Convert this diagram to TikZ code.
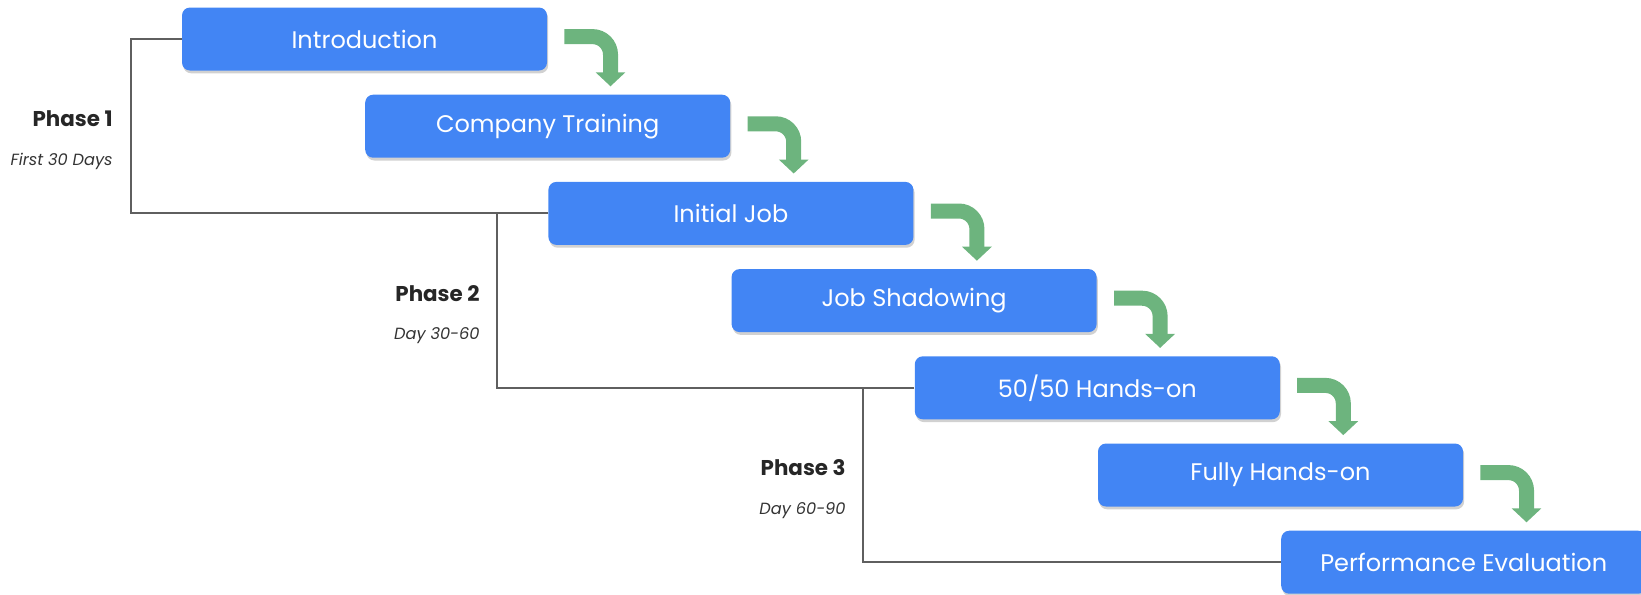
\documentclass[tikz,border=0pt]{standalone}
\usepackage{fontspec}
\setmainfont{Poppins}
\usetikzlibrary{arrows.meta,shadows}
\definecolor{stageblue}{RGB}{66,133,244}
\definecolor{turngreen}{RGB}{109,180,126}
\definecolor{bracketgray}{RGB}{95,95,95}

\begin{document}
\begin{tikzpicture}[x=0.5pt,y=-0.5pt,
  stage/.style={fill=stageblue,text=white,rounded corners=4pt,minimum width=182.5pt,minimum height=31.5pt,
    font=\fontsize{12}{14}\selectfont,drop shadow={fill=black!60,opacity=0.3,shadow xshift=0.6pt,shadow yshift=-1.4pt}},
  turn/.style={draw=turngreen,line width=7.5pt,rounded corners=9pt,-{Triangle[length=7pt,width=14.5pt]}},
  bracket/.style={draw=bracketgray,line width=1pt},
  phase/.style={anchor=east,inner xsep=0pt,font=\bfseries\fontsize{10.7}{12}\selectfont,text=black!85},
  days/.style={anchor=east,inner xsep=0pt,font=\itshape\fontsize{8.1}{10}\selectfont,text=black!80}]
\useasboundingbox (0,0) rectangle (1641,594);
\path (364.5,39) node[stage] (I) {Introduction} +(183.2,87.2) node[stage] (CT) {Company Training} +(366.4,174.4) node[stage] (IJ) {Initial Job} +(549.6,261.6) node[stage] (JS) {Job Shadowing} +(732.8,348.8) node[stage] (HO) {50/50 Hands-on} +(916,436) node[stage] (FH) {Fully Hands-on} +(1099.2,523.2) node[stage] (PE) {Performance Evaluation};

\draw[bracket] (I.west)--+(-51,0) |- (IJ.west);
\draw[bracket] (IJ.west)--+(-51,0) |- (HO.west);
\draw[bracket] (HO.west)--+(-51,0) |- (PE.west);

\node[phase] (P1) at (113,119) {Phase 1};
\node[days] (D1) at (113,161) {First 30 Days};
\node[phase] (P2) at (480,294) {Phase 2};
\node[days] (D2) at (480,336) {Day 30-60};
\node[phase] (P3) at (846,468) {Phase 3};
\node[days] (D3) at (846,511) {Day 60-90};

\draw[turn] ([xshift=8.5pt,yshift=1.2pt]I.east) -| ([xshift=31.4pt,yshift=4pt]CT.north);
\draw[turn] ([xshift=8.5pt,yshift=1.2pt]CT.east) -| ([xshift=31.4pt,yshift=4pt]IJ.north);
\draw[turn] ([xshift=8.5pt,yshift=1.2pt]IJ.east) -| ([xshift=31.4pt,yshift=4pt]JS.north);
\draw[turn] ([xshift=8.5pt,yshift=1.2pt]JS.east) -| ([xshift=31.4pt,yshift=4pt]HO.north);
\draw[turn] ([xshift=8.5pt,yshift=1.2pt]HO.east) -| ([xshift=31.4pt,yshift=4pt]FH.north);
\draw[turn] ([xshift=8.5pt,yshift=1.2pt]FH.east) -| ([xshift=31.4pt,yshift=4pt]PE.north);
\end{tikzpicture}
\end{document}
